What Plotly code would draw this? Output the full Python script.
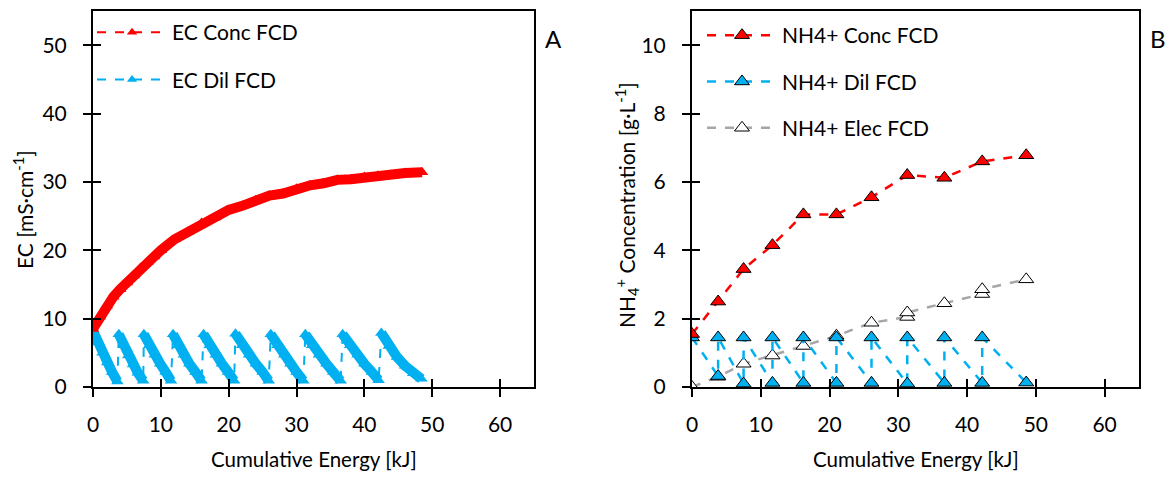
import plotly.graph_objects as go

# ---------------- Panel A data ----------------
ec_conc_energy = [0, 1, 2, 3, 4, 5, 6, 7, 8, 9, 10, 12, 14, 16, 18, 20, 22, 24, 26, 28,
                  30, 32, 34, 36, 38, 40, 42, 44, 46, 48.5]
ec_conc = [8.5, 10.3, 11.9, 13.2, 14.3, 15.3, 16.3, 17.4, 18.3, 19.1, 20.0, 21.6, 22.7,
           24.0, 24.8, 25.9, 26.5, 27.3, 28.0, 28.3, 29.0, 29.5, 29.8, 30.3, 30.4, 30.7,
           30.9, 31.0, 31.3, 31.4]

dil_cycle_energy = [
    [0.0, 0.7, 1.4, 2.1, 2.8, 3.6],
    [3.8, 4.5, 5.2, 5.9, 6.6, 7.4],
    [7.5, 8.3, 9.1, 9.9, 10.7, 11.5],
    [11.8, 12.6, 13.4, 14.2, 15.1, 16.0],
    [16.3, 17.2, 18.1, 19.0, 19.9, 20.8],
    [21.0, 22.0, 23.0, 24.0, 25.0, 25.9],
    [26.2, 27.2, 28.2, 29.1, 30.0, 31.0],
    [31.3, 32.3, 33.3, 34.4, 35.4, 36.5],
    [36.8, 37.9, 39.0, 40.0, 41.1, 42.1],
    [42.5, 43.6, 44.8, 46.0, 47.2, 48.4],
]
dil_cycle_ec = [
    [8.2, 6.5, 5.0, 3.6, 2.2, 0.8],
    [7.7, 6.1, 4.6, 3.3, 2.1, 0.9],
    [7.7, 6.1, 4.7, 3.4, 2.2, 0.9],
    [7.7, 6.1, 4.7, 3.4, 2.2, 0.9],
    [7.7, 6.1, 4.7, 3.4, 2.2, 0.9],
    [7.8, 6.1, 4.7, 3.4, 2.2, 0.9],
    [7.7, 6.1, 4.7, 3.4, 2.2, 0.9],
    [7.7, 6.1, 4.7, 3.4, 2.2, 0.9],
    [7.7, 6.1, 4.7, 3.4, 2.2, 1.0],
    [7.9, 6.0, 4.4, 3.1, 2.0, 1.2],
]

# ---------------- Panel B data ----------------
nh4_conc_energy = [0, 3.8, 7.5, 11.7, 16.2, 21.0, 26.1, 31.3, 36.7, 42.2, 48.6]
nh4_conc = [1.55, 2.5, 3.45, 4.15, 5.05, 5.05, 5.55, 6.2, 6.12, 6.6, 6.78]

nh4_dil_energy = [0, 3.8, 3.8, 7.5, 7.5, 11.7, 11.7, 16.2, 16.2, 21.0, 21.0, 26.1, 26.1,
                  31.3, 31.3, 36.7, 36.7, 42.2, 42.2, 48.6]
nh4_dil = [1.45, 0.32, 1.45, 0.1, 1.45, 0.12, 1.45, 0.12, 1.45, 0.12, 1.45, 0.12, 1.45,
           0.1, 1.45, 0.12, 1.45, 0.12, 1.45, 0.13]

nh4_elec_energy = [0, 3.8, 7.5, 11.7, 16.2, 21.0, 26.1, 31.3, 31.3, 36.7, 42.2, 42.2, 48.6]
nh4_elec = [0.0, 0.3, 0.68, 0.92, 1.2, 1.5, 1.88, 2.05, 2.18, 2.45, 2.72, 2.86, 3.15]

x_ticks = [0, 10, 20, 30, 40, 50, 60]
ya_ticks = [0, 10, 20, 30, 40, 50]
yb_ticks = [0, 2, 4, 6, 8, 10]

RED = "#FF0000"
BLUE = "#00B0F0"
GREY = "#A6A6A6"
FONT = "Lato"
FS = 21

fig = go.Figure()

# ---- Panel A traces ----
dil_all_x, dil_all_y = [], []
for xs, ys in zip(dil_cycle_energy, dil_cycle_ec):
    dil_all_x += xs
    dil_all_y += ys
fig.add_trace(go.Scatter(x=dil_all_x, y=dil_all_y, mode="lines",
                         line=dict(color=BLUE, width=2, dash="dash"),
                         showlegend=False, hoverinfo="skip", xaxis="x", yaxis="y"))
seg_x, seg_y = [], []
for xs, ys in zip(dil_cycle_energy, dil_cycle_ec):
    seg_x += xs + [None]
    seg_y += ys + [None]
fig.add_trace(go.Scatter(x=seg_x, y=seg_y, mode="lines+markers",
                         line=dict(color=BLUE, width=10),
                         marker=dict(symbol="triangle-up", size=11, color=BLUE),
                         showlegend=False, xaxis="x", yaxis="y"))
fig.add_trace(go.Scatter(x=ec_conc_energy, y=ec_conc, mode="lines+markers",
                         line=dict(color=RED, width=10),
                         marker=dict(symbol="triangle-up", size=11, color=RED),
                         showlegend=False, xaxis="x", yaxis="y"))
fig.add_trace(go.Scatter(x=[None], y=[None], mode="lines+markers", name="EC Conc FCD",
                         line=dict(color=RED, width=2, dash="dash"),
                         marker=dict(symbol="triangle-up", size=9, color=RED),
                         legend="legend", legendgroup="a1", xaxis="x", yaxis="y"))
fig.add_trace(go.Scatter(x=[None], y=[None], mode="lines+markers", name="EC Dil FCD",
                         line=dict(color=BLUE, width=2, dash="dash"),
                         marker=dict(symbol="triangle-up", size=9, color=BLUE),
                         legend="legend", legendgroup="a2", xaxis="x", yaxis="y"))

# ---- Panel B traces ----
fig.add_trace(go.Scatter(x=nh4_elec_energy, y=nh4_elec, mode="lines+markers",
                         name="NH4+ Elec FCD",
                         line=dict(color=GREY, width=2.5, dash="dash"),
                         marker=dict(symbol="triangle-up", size=13, color="white",
                                     line=dict(color="black", width=1)),
                         legend="legend2", legendgroup="b3", legendrank=3,
                         xaxis="x2", yaxis="y2"))
fig.add_trace(go.Scatter(x=nh4_dil_energy, y=nh4_dil, mode="lines+markers",
                         name="NH4+ Dil FCD",
                         line=dict(color=BLUE, width=2.5, dash="dash"),
                         marker=dict(symbol="triangle-up", size=13, color=BLUE,
                                     line=dict(color="black", width=1)),
                         legend="legend2", legendgroup="b2", legendrank=2,
                         xaxis="x2", yaxis="y2"))
fig.add_trace(go.Scatter(x=nh4_conc_energy, y=nh4_conc, mode="lines+markers",
                         name="NH4+ Conc FCD",
                         line=dict(color=RED, width=2.5, dash="dash"),
                         marker=dict(symbol="triangle-up", size=13, color=RED,
                                     line=dict(color="black", width=1)),
                         legend="legend2", legendgroup="b1", legendrank=1,
                         xaxis="x2", yaxis="y2"))

for xa, ya in [("x3", "y"), ("x", "y3"), ("x4", "y2"), ("x2", "y4")]:
    fig.add_trace(go.Scatter(x=[None], y=[None], xaxis=xa, yaxis=ya,
                             showlegend=False, hoverinfo="skip"))

# page body has an 8 px margin -> figure is drawn from (8, 8)
OFF = 8
W, H = 1173 - 2 * OFF, 479 - 2 * OFF


def px(xp):
    return (xp - OFF) / W


def py(yp):
    return (H - (yp - OFF)) / H


xa_dom = [px(93), px(534)]
xb_dom = [px(692), px(1139)]
y_dom = [py(387), py(11)]

tickfont = dict(family=FONT, size=FS, color="black")
common = dict(showgrid=False, zeroline=False, showline=True, linecolor="black",
              linewidth=2, mirror=True, ticks="outside", ticklen=8, tickwidth=2,
              tickcolor="black", tickfont=tickfont, fixedrange=True, automargin=False)
inside = dict(showgrid=False, zeroline=False, showline=False, ticks="inside",
              ticklen=8, tickwidth=2, tickcolor="black", showticklabels=False,
              automargin=False)


def ann(text, x, y, size=FS, angle=0):
    return dict(text=text, x=px(x), y=py(y), xref="paper", yref="paper",
                xanchor="center", yanchor="middle", showarrow=False, textangle=angle,
                font=dict(family=FONT, size=size, color="black"))


fig.update_layout(
    template="none",
    width=W, height=H,
    margin=dict(l=0, r=0, t=0, b=0, pad=0, autoexpand=False),
    paper_bgcolor="white", plot_bgcolor="white",
    font=dict(family=FONT, size=FS, color="black"),
    xaxis=dict(domain=xa_dom, range=[0, 65], tickvals=x_ticks, anchor="y",
               ticklabelstandoff=10, **common),
    yaxis=dict(domain=y_dom, range=[0, 55], tickvals=ya_ticks, anchor="x",
               ticklabelstandoff=12, **common),
    xaxis2=dict(domain=xb_dom, range=[0, 65], tickvals=x_ticks, anchor="y2",
                ticklabelstandoff=10, **common),
    yaxis2=dict(domain=y_dom, range=[0, 11], tickvals=yb_ticks, anchor="x2",
                ticklabelstandoff=12, **common),
    xaxis3=dict(overlaying="x", anchor="y", range=[0, 65], tickvals=x_ticks, **inside),
    yaxis3=dict(overlaying="y", anchor="x", range=[0, 55], tickvals=ya_ticks, **inside),
    xaxis4=dict(overlaying="x2", anchor="y2", range=[0, 65], tickvals=x_ticks, **inside),
    yaxis4=dict(overlaying="y2", anchor="x2", range=[0, 11], tickvals=yb_ticks, **inside),
    legend=dict(x=px(92), y=py(12), xanchor="left", yanchor="top",
                bgcolor="rgba(0,0,0,0)", borderwidth=0, font=dict(family=FONT, size=FS),
                itemwidth=70, tracegroupgap=17, traceorder="grouped"),
    legend2=dict(x=px(702), y=py(15), xanchor="left", yanchor="top",
                 bgcolor="rgba(0,0,0,0)", borderwidth=0, font=dict(family=FONT, size=FS),
                 itemwidth=70, tracegroupgap=16, traceorder="grouped"),
    showlegend=True,
    annotations=[
        ann("A", 553, 38, 24),
        ann("B", 1158, 38, 24),
        ann("Cumulative Energy [kJ]", 313.5, 459, 20.5),
        ann("Cumulative Energy [kJ]", 915.5, 459, 20.5),
        ann("EC [mS·cm<sup>-1</sup>]", 23, 210, angle=-90),
        ann("NH<sub>4</sub><sup>+</sup> Concentration [g·L<sup>-1</sup>]", 627, 205,
            angle=-90),
    ],
)

fig.write_html("out.html")
